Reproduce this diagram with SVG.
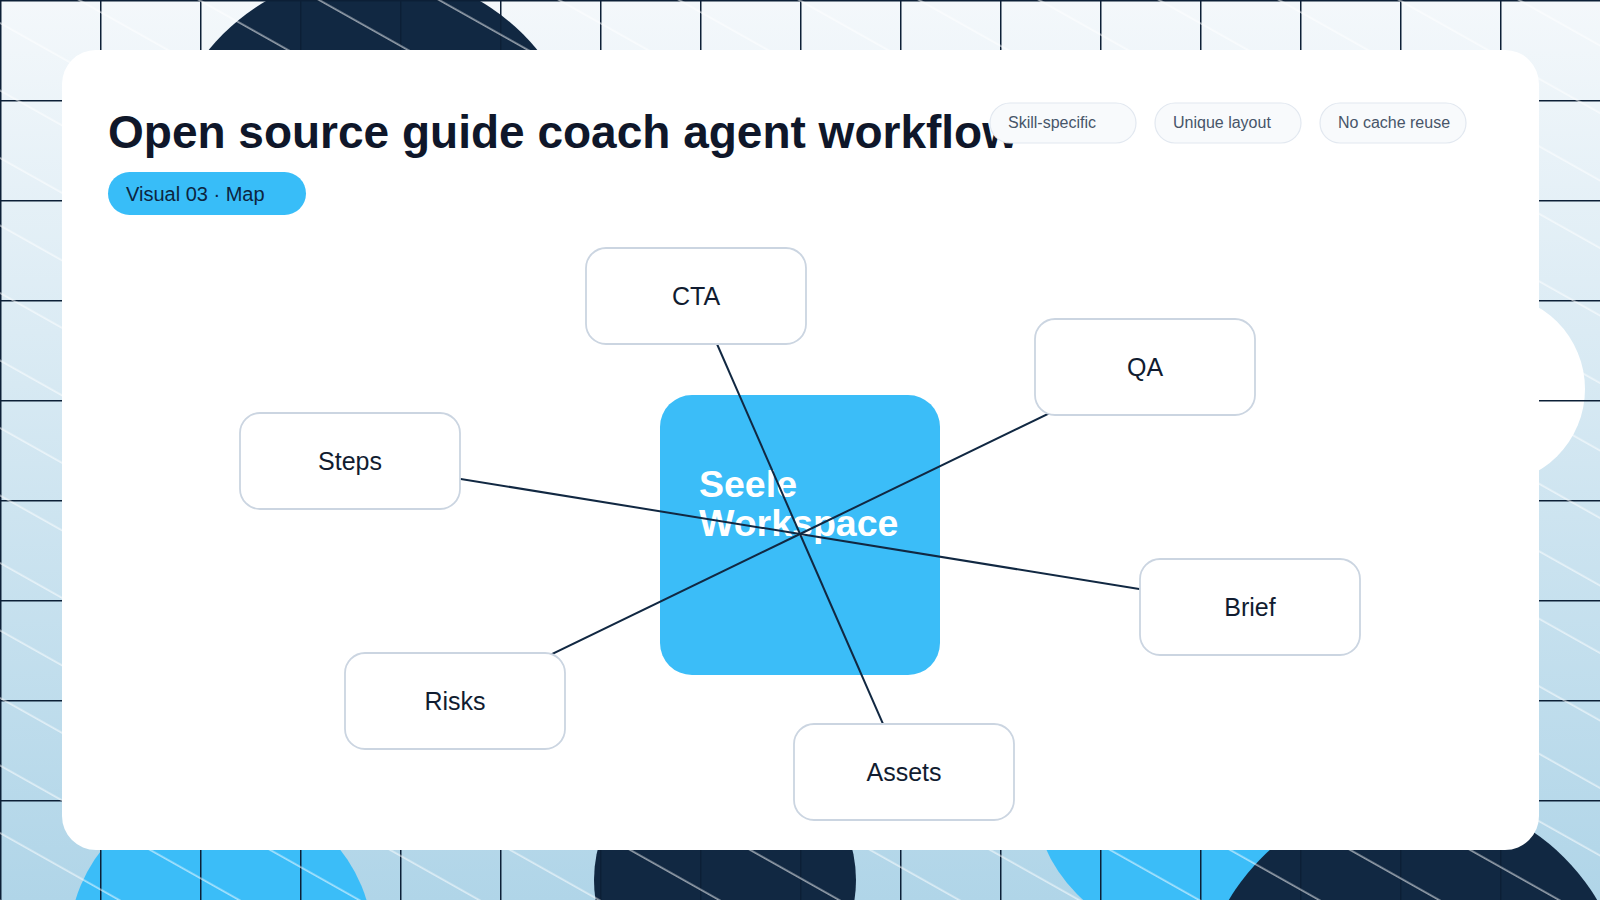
<svg xmlns="http://www.w3.org/2000/svg" width="1600" height="900" viewBox="0 0 1600 900">
  <defs>
    <linearGradient id="bg" x1="0" y1="0" x2="0" y2="1">
      <stop offset="0" stop-color="#f4f8fb"/>
      <stop offset="1" stop-color="#b0d5e8"/>
    </linearGradient>
    <pattern id="grid" width="100" height="100" patternUnits="userSpaceOnUse">
      <path d="M0.75 0 V100 M0 0.75 H100" fill="none" stroke="#0c1f36" stroke-width="1.5"/>
    </pattern>
    <pattern id="diag" width="200" height="58.83" patternUnits="userSpaceOnUse" patternTransform="rotate(29.358)">
      <line x1="0" y1="20.05" x2="200" y2="20.05" stroke="#ffffff" stroke-width="1.1" stroke-opacity="0.75"/>
    </pattern>
    <style>
      .txt { font-family: "Liberation Sans", Arial, Helvetica, sans-serif; }
      .navy { fill: #112842; }
      .sky { fill: #3bbdf8; }
      .chip rect { fill: #f8fafc; stroke: #e2e8f0; stroke-width: 1.2; }
      .chip text { font-size: 16px; fill: #475569; }
      .node rect { fill: #ffffff; stroke: #cbd5e1; stroke-width: 1.8; }
      .node text { font-size: 25px; fill: #111c30; text-anchor: middle; }
      .conn line { stroke: #112842; stroke-width: 2; }
    </style>
  </defs>

  <!-- background -->
  <rect x="0" y="0" width="1600" height="900" fill="url(#bg)"/>
  <circle class="navy" cx="373" cy="184" r="212"/>
  <circle fill="#ffffff" cx="1490" cy="389" r="95"/>
  <circle class="sky" cx="221" cy="944" r="152"/>
  <circle class="navy" cx="725" cy="880" r="131"/>
  <circle class="sky" cx="1183" cy="788" r="150"/>
  <circle class="navy" cx="1413" cy="1009" r="214"/>
  <rect x="0" y="0" width="1600" height="900" fill="url(#grid)"/>
  <rect x="0" y="0" width="1600" height="900" fill="url(#diag)"/>

  <!-- card -->
  <rect x="62" y="50" width="1477" height="800" rx="34" fill="#ffffff"/>

  <!-- header -->
  <text class="txt" x="108" y="148" font-size="46" font-weight="700" fill="#0f172a">Open source guide coach agent workflow</text>
  <g id="pill">
    <rect x="108" y="172" width="198" height="43" rx="21.5" fill="#38bdf8"/>
    <text class="txt" x="126" y="200.5" font-size="20" fill="#0c2540">Visual 03 · Map</text>
  </g>
  <g id="chip-skill" class="chip txt">
    <rect x="990" y="103" width="146" height="40" rx="20"/>
    <text x="1008" y="128">Skill-specific</text>
  </g>
  <g id="chip-layout" class="chip txt">
    <rect x="1155" y="103" width="146" height="40" rx="20"/>
    <text x="1173" y="128">Unique layout</text>
  </g>
  <g id="chip-cache" class="chip txt">
    <rect x="1320" y="103" width="146" height="40" rx="20"/>
    <text x="1338" y="128">No cache reuse</text>
  </g>

  <!-- center node -->
  <g id="node-center">
    <rect x="660" y="395" width="280" height="280" rx="32" fill="#3bbdf8"/>
    <text class="txt" x="699" y="497" font-size="37.5" font-weight="700" fill="#ffffff">Seele</text>
    <text class="txt" x="699" y="536" font-size="37.5" font-weight="700" fill="#ffffff">Workspace</text>
  </g>

  <!-- connectors -->
  <g id="connectors" class="conn">
    <line x1="800" y1="534" x2="696" y2="296"/>
    <line x1="800" y1="534" x2="1145" y2="367"/>
    <line x1="800" y1="534" x2="1250" y2="607"/>
    <line x1="800" y1="534" x2="904" y2="772"/>
    <line x1="800" y1="534" x2="455" y2="701"/>
    <line x1="800" y1="534" x2="350" y2="461"/>
  </g>

  <!-- outer nodes -->
  <g id="node-cta" class="node txt">
    <rect x="586" y="248" width="220" height="96" rx="20"/>
    <text x="696" y="305">CTA</text>
  </g>
  <g id="node-qa" class="node txt">
    <rect x="1035" y="319" width="220" height="96" rx="20"/>
    <text x="1145" y="376">QA</text>
  </g>
  <g id="node-brief" class="node txt">
    <rect x="1140" y="559" width="220" height="96" rx="20"/>
    <text x="1250" y="616">Brief</text>
  </g>
  <g id="node-assets" class="node txt">
    <rect x="794" y="724" width="220" height="96" rx="20"/>
    <text x="904" y="781">Assets</text>
  </g>
  <g id="node-risks" class="node txt">
    <rect x="345" y="653" width="220" height="96" rx="20"/>
    <text x="455" y="710">Risks</text>
  </g>
  <g id="node-steps" class="node txt">
    <rect x="240" y="413" width="220" height="96" rx="20"/>
    <text x="350" y="470">Steps</text>
  </g>
</svg>
